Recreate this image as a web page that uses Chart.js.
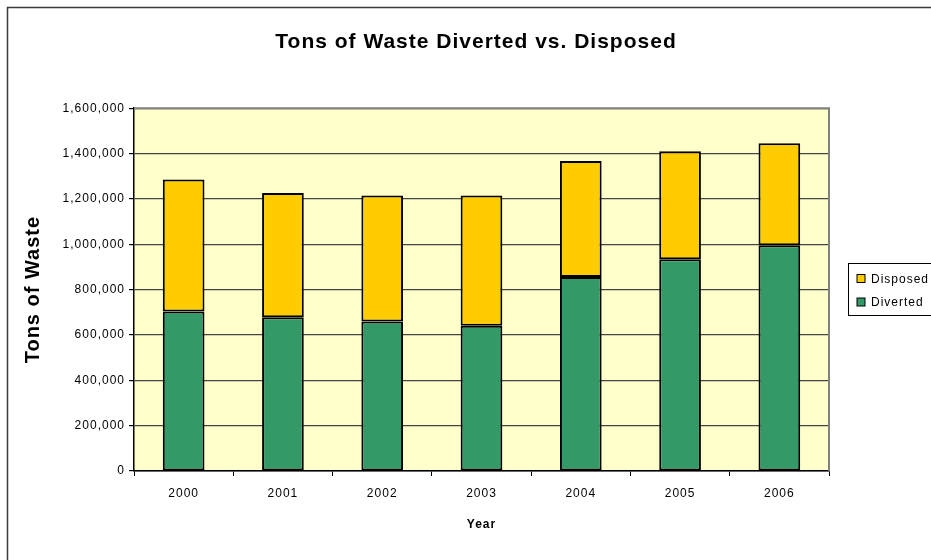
<!DOCTYPE html>
<html lang="en">
<head>
  <meta charset="UTF-8" />
  <title>Tons of Waste Diverted vs. Disposed</title>
  <script src="https://cdn.jsdelivr.net/npm/chart.js"></script>
  <style>
    html, body { margin: 0; padding: 0; background: #fff; }
    #grafico { display: block; }
  </style>
</head>
<body>

  <canvas id="grafico" width="931" height="560"></canvas>

  <script>
    // values
    const years = ['2000', '2001', '2002', '2003', '2004', '2005', '2006'];
    const diverted = [703000, 678000, 659000, 641000, 856000, 934000, 996000];
    const disposed = [583000, 548000, 556000, 574000, 511000, 476000, 449000];
    const yMax = 1600000;
    const yStep = 200000;

    const FONT = 'Arial, "Liberation Sans", sans-serif';

    // the old chart has slightly spaced letters everywhere
    const espaciado = {
      id: 'espaciado',
      beforeUpdate(chart) { chart.ctx.letterSpacing = '1px'; },
      beforeDraw(chart) { chart.ctx.letterSpacing = '1px'; }
    };

    // outer frame + yellow plot area
    const fondo = {
      id: 'fondo',
      beforeDraw(chart) {
        const { ctx, chartArea: a } = chart;
        ctx.save();
        ctx.strokeStyle = '#3a3a3a';
        ctx.lineWidth = 1.5;
        ctx.strokeRect(7.5, 7.5, 940, 570);
        ctx.fillStyle = '#FFFFCC';
        ctx.fillRect(a.left, a.top, a.right - a.left, a.bottom - a.top);
        ctx.restore();
      },
      beforeDatasetsDraw(chart) {
        const { ctx, chartArea: a } = chart;
        ctx.save();
        ctx.strokeStyle = '#808080';
        ctx.lineWidth = 2;
        ctx.beginPath();
        ctx.moveTo(a.left, a.top);
        ctx.lineTo(a.right, a.top);
        ctx.lineTo(a.right, a.bottom);
        ctx.stroke();
        ctx.restore();
      }
    };

    // boxed legend at the right, Disposed above Diverted
    const leyenda = {
      id: 'leyenda',
      afterDraw(chart) {
        const ctx = chart.ctx;
        const items = chart.data.datasets.slice().reverse();
        ctx.save();
        ctx.letterSpacing = '1px';
        ctx.strokeStyle = '#000';
        ctx.lineWidth = 1;
        ctx.strokeRect(848.5, 263.5, 100, 52);
        ctx.font = '12px ' + FONT;
        ctx.textBaseline = 'middle';
        items.forEach((ds, i) => {
          const y = 278.5 + i * 23.5;
          ctx.fillStyle = ds.backgroundColor;
          ctx.fillRect(857, y - 4, 8, 8);
          ctx.strokeRect(857, y - 4, 8, 8);
          ctx.fillStyle = '#000';
          ctx.fillText(ds.label, 871, y + 1);
        });
        ctx.restore();
      }
    };

    new Chart(document.getElementById('grafico').getContext('2d'), {
      type: 'bar',
      data: {
        labels: years,
        datasets: [
          {
            label: 'Diverted',
            data: diverted,
            backgroundColor: '#339966',
            borderColor: '#000',
            borderWidth: 2,
            borderSkipped: false
          },
          {
            label: 'Disposed',
            data: disposed,
            backgroundColor: '#FFCC00',
            borderColor: '#000',
            borderWidth: 2,
            borderSkipped: false
          }
        ]
      },
      options: {
        responsive: false,
        animation: false,
        layout: { padding: { left: 21, right: 0, top: 0, bottom: 0 } },
        datasets: { bar: { categoryPercentage: 1, barPercentage: 0.42 } },
        plugins: {
          legend: { display: false },
          tooltip: { enabled: false },
          title: {
            display: true,
            text: 'Tons of Waste Diverted vs. Disposed',
            color: '#000',
            font: { family: FONT, size: 21, weight: 'bold' },
            padding: { top: 30, bottom: 53 }
          }
        },
        scales: {
          x: {
            stacked: true,
            afterFit(scale) { scale.height = 89; },
            grid: { offset: true, drawOnChartArea: false, tickLength: 5, color: '#000' },
            border: { color: '#000', width: 1.5 },
            ticks: { color: '#000', font: { family: FONT, size: 12 }, padding: 10, maxRotation: 0 },
            title: {
              display: true,
              text: 'Year',
              color: '#000',
              font: { family: FONT, size: 12, weight: 'bold' },
              padding: { top: 28, bottom: 28 }
            }
          },
          y: {
            stacked: true,
            min: 0,
            max: yMax,
            afterFit(scale) { scale.width = 113; },
            grid: { color: '#444', lineWidth: 1.2, tickLength: 5, tickColor: '#000' },
            border: { color: '#000', width: 1.5 },
            ticks: {
              stepSize: yStep,
              color: '#000',
              font: { family: FONT, size: 12 },
              padding: 4,
              callback: v => v.toLocaleString('en-US')
            },
            title: {
              display: true,
              text: 'Tons of Waste',
              color: '#000',
              font: { family: FONT, size: 20, weight: 'bold' },
              padding: { top: 0, bottom: 0 }
            }
          },
          // empty axis that only keeps room for the legend on the right
          espacio: {
            type: 'linear',
            position: 'right',
            display: true,
            afterFit(scale) { scale.width = 102; },
            grid: { display: false, drawTicks: false },
            border: { display: false },
            ticks: { display: false }
          }
        }
      },
      plugins: [espaciado, fondo, leyenda]
    });
  </script>

</body>
</html>
